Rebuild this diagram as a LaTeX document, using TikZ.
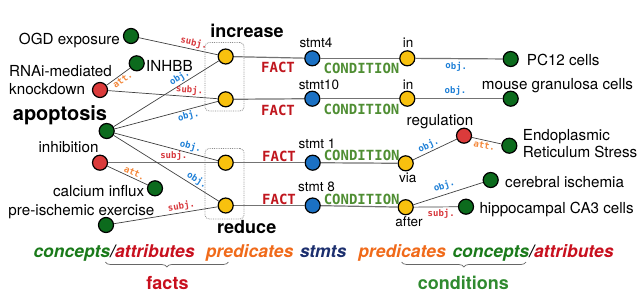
\documentclass[tikz,border=0pt]{standalone}
\usepackage{fontspec}
\setmainfont{TeX Gyre Heros}
\newfontfamily\monof{DejaVu Sans Mono}
\usetikzlibrary{decorations.pathreplacing}
\definecolor{ngreen}{HTML}{0C6B1D}
\definecolor{nred}{HTML}{DB3B3B}
\definecolor{nyellow}{HTML}{F8C10E}
\definecolor{nblue}{HTML}{1B71C4}
\definecolor{subjred}{HTML}{D7373C}
\definecolor{objblue}{HTML}{1C7ED6}
\definecolor{attorange}{HTML}{F3873A}
\definecolor{factred}{HTML}{C0161E}
\definecolor{condgreen}{HTML}{4F8E33}
\definecolor{lgreen}{HTML}{1A7A1A}
\definecolor{lred}{HTML}{C8101E}
\definecolor{lorange}{HTML}{F06A1A}
\definecolor{lnavy}{HTML}{1C2F6E}
\definecolor{cgreen}{HTML}{2F8A2F}
\begin{document}
\begin{tikzpicture}[x=1pt,y=-1pt,
  dot/.style={circle, draw=black, line width=1.2pt, minimum size=15pt, inner sep=0pt},
  cdot/.style={dot, fill=ngreen},
  adot/.style={dot, fill=nred},
  pdot/.style={dot, fill=nyellow},
  sdot/.style={dot, fill=nblue},
  lab/.style={font=\fontsize{15.2}{17}\selectfont, inner sep=0pt},
  slab/.style={font=\fontsize{13.5}{15}\selectfont, inner sep=0pt},
  blab/.style={font=\bfseries\fontsize{18}{20}\selectfont, inner sep=0pt},
  elab/.style={font=\monof\bfseries\fontsize{9}{10}\selectfont, inner sep=1.5pt, sloped},
  subjl/.style={elab, text=subjred},
  objl/.style={elab, text=objblue},
  attl/.style={elab, text=attorange},
  factl/.style={font=\monof\bfseries\fontsize{14}{16}\selectfont, inner sep=0pt, text=factred},
  condl/.style={font=\monof\bfseries\fontsize{14}{16}\selectfont, inner sep=0pt, text=condgreen},
  link/.style={draw=black!75, line width=0.7pt},
  hlink/.style={draw=black!55, line width=1.2pt},
  grp/.style={draw=black!45, densely dotted, line width=0.8pt, rounded corners=4pt, inner sep=0pt},
  leg/.style={font=\bfseries\itshape\fontsize{17.5}{19}\selectfont, inner sep=0pt},
  brc/.style={draw=black!60, line width=0.7pt, decorate, decoration={brace, mirror, amplitude=5pt}}
]
\useasboundingbox (0,0) rectangle (640,293);

% group boxes
\node[grp, minimum width=39pt, minimum height=68.5pt] (incbox) at (224.5,76.75) {};
\node[grp, minimum width=39pt, minimum height=70.5pt] (redbox) at (224.5,183.75) {};

% concept / attribute nodes (left)
\node[cdot] (ogd) at (131,36) {};
\node[cdot] (inhbb) at (136.7,63.3) {};
\node[adot] (rnai) at (100,90) {};
\node[cdot] (apo) at (106.7,131) {};
\node[adot] (inhib) at (100,162.7) {};
\node[cdot] (calc) at (155,188.3) {};
\node[cdot] (pre) at (106,225) {};

% predicates
\node[pdot] (inc1) at (225.7,56.5) {};
\node[pdot] (inc2) at (225.7,99.3) {};
\node[pdot] (red1) at (225.7,162.7) {};
\node[pdot] (red2) at (225.7,205.5) {};

% statements
\node[sdot] (s4) at (312.3,58.3) {};
\node[sdot] (s10) at (312.3,98.7) {};
\node[sdot] (s1) at (312.7,162.7) {};
\node[sdot] (s8) at (312.7,205.5) {};

% condition predicates
\node[pdot] (in1) at (407.3,58.3) {};
\node[pdot] (in2) at (407.3,98.7) {};
\node[pdot] (via) at (405.7,163.3) {};
\node[pdot] (after) at (405.7,207.2) {};

% right concepts
\node[cdot] (pc12) at (510.7,59) {};
\node[cdot] (mouse) at (510.7,98.7) {};
\node[adot] (regu) at (464,135.7) {};
\node[cdot] (endo) at (509.3,145.7) {};
\node[cdot] (cere) at (490.7,180) {};
\node[cdot] (hippo) at (466,206.7) {};

% texts
\node[lab, anchor=base east] (tOGD) at (120,44) {OGD exposure};
\node[lab, anchor=base west] (tINHBB) at (146,71) {INHBB};
\node[lab, anchor=base west] (tRNAi) at (9,76.7) {RNAi-mediated};
\node[lab, anchor=base west] (tknock) at (9,94.3) {knockdown};
\node[font=\bfseries\fontsize{20}{22}\selectfont, inner sep=0pt, anchor=base west] (tapo) at (12.7,120) {apoptosis};
\node[lab, anchor=base west] (tinhib) at (38.3,152.3) {inhibition};
\node[lab, anchor=base east] (tcalc) at (144.5,196) {calcium influx};
\node[lab, anchor=base west] (tpre) at (8.3,215) {pre-ischemic exercise};
\node[blab, anchor=base] (tinc) at (247,37) {increase};
\node[blab, anchor=base] (tred) at (246.7,233) {reduce};
\node[slab, anchor=base] (ts4) at (316,47.7) {stmt4};
\node[slab, anchor=base] (ts10) at (319,89.3) {stmt10};
\node[slab, anchor=base] (ts1) at (317,148.3) {stmt 1};
\node[slab, anchor=base] (ts8) at (316.5,191.7) {stmt 8};
\node[slab, anchor=base] (tin1) at (408,47.7) {in};
\node[slab, anchor=base] (tin2) at (408,89.3) {in};
\node[slab, anchor=base] (tvia) at (407.7,182) {via};
\node[slab, anchor=base] (tafter) at (409,226) {after};
\node[lab, anchor=base west] (tpc) at (526.7,65.3) {PC12 cells};
\node[lab, anchor=base west] (tmouse) at (481.7,89.3) {mouse granulosa cells};
\node[lab, anchor=base] (treg) at (440,125) {regulation};
\node[lab, anchor=base west] (tendo1) at (522.7,140) {Endoplasmic};
\node[lab, anchor=base west] (tendo2) at (522.7,157.7) {Reticulum Stress};
\node[lab, anchor=base west] (tcere) at (505,187.7) {cerebral ischemia};
\node[lab, anchor=base west] (thippo) at (479.3,213.3) {hippocampal CA3 cells};

% left connectors
\draw[link] (ogd) -- node[subjl, above, pos=0.68] {subj.} (inc1);
\draw[link] (apo) -- node[objl, above, pos=0.66] {obj.} (inc1);
\draw[link] (rnai) -- node[attl, below, pos=0.55] {att.} (inhbb);
\draw[link] (rnai) -- node[subjl, above, pos=0.74] {subj.} (inc2);
\draw[link] (apo) -- node[objl, below, pos=0.7] {obj.} (inc2);
\draw[link] (apo) -- node[objl, above, pos=0.72] {obj.} (red1);
\draw[hlink] (inhib) -- node[subjl, above, pos=0.6] {subj.} (red1);
\draw[link] (inhib) -- node[attl, above, pos=0.62] {att.} (calc);
\draw[link] (apo) -- node[objl, above, pos=0.76] {obj.} (red2);
\draw[link] (pre) -- node[subjl, above, pos=0.66] {subj.} (red2);

% fact / condition connectors
\draw[hlink] (inc1) -- (s4);
\draw[hlink] (inc2) -- (s10);
\draw[hlink] (red1) -- (s1);
\draw[hlink] (red2) -- (s8);
\draw[hlink] (s4) -- (in1);
\draw[hlink] (s10) -- (in2);
\draw[hlink] (s1) -- (via);
\draw[hlink] (s8) -- (after);

\node[factl] (f1) at (278,67.3) {FACT};
\node[factl] (f2) at (278,110.7) {FACT};
\node[factl] (f3) at (279,156) {FACT};
\node[factl] (f4) at (279,199.3) {FACT};
\node[condl] (c1) at (361.5,68.3) {CONDITION};
\node[condl] (c2) at (361.5,109.3) {CONDITION};
\node[condl] (c3) at (361.7,155.7) {CONDITION};
\node[condl] (c4) at (361.7,199) {CONDITION};

% right connectors
\draw[hlink] (in1) -- node[objl, below=1pt, pos=0.47] {obj.} (pc12);
\draw[hlink] (in2) -- node[objl, above=1pt, pos=0.46] {obj.} (mouse);
\draw[link] (via) -- node[objl, above, pos=0.42] {obj.} (regu);
\draw[link] (regu) -- node[attl, below, pos=0.46] {att.} (endo);
\draw[link] (after) -- node[objl, above=2pt, pos=0.48] {obj.} (cere);
\draw[link] (after) -- node[subjl, below, pos=0.62] {subj.} (hippo);

% legend
\node[leg, anchor=base west] (l1) at (33.3,257) {\textcolor{lgreen}{concepts}/\textcolor{lred}{attributes}};
\node[leg, anchor=base, text=lorange] (l4) at (249.5,257) {predicates};
\node[leg, anchor=base, text=lnavy] (l5) at (323,257) {stmts};
\node[leg, anchor=base, text=lorange] (l6) at (402,257) {predicates};
\node[leg, anchor=base west] (l7) at (452.3,257) {\textcolor{lgreen}{concepts}/\textcolor{lred}{attributes}};

\coordinate (fb1) at (105.3,262);
\coordinate (fb2) at (228.3,262);
\coordinate (cb1) at (401.7,262);
\coordinate (cb2) at (526,262);
\draw[brc] (fb1) -- (fb2);
\draw[brc] (cb1) -- (cb2);
\node[font=\bfseries\fontsize{18}{20}\selectfont, inner sep=0pt, anchor=base, text=lred] (tfacts) at (167.5,289) {facts};
\node[font=\bfseries\fontsize{18}{20}\selectfont, inner sep=0pt, anchor=base, text=cgreen] (tconds) at (463.3,289) {conditions};
\end{tikzpicture}
\end{document}
